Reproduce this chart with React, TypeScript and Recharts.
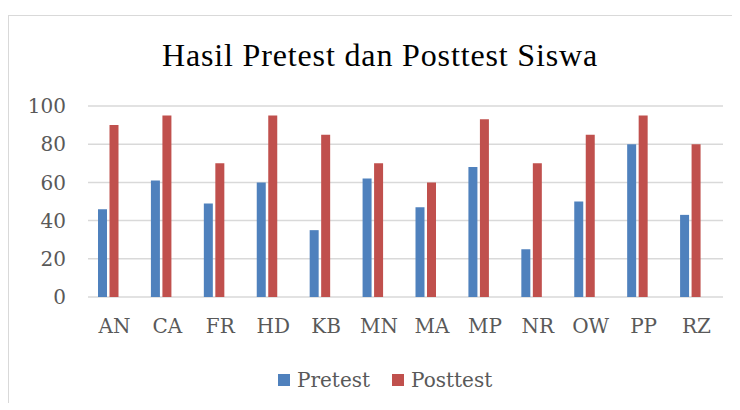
import { BarChart, Bar, XAxis, YAxis, CartesianGrid } from "recharts";

const categories = ["AN", "CA", "FR", "HD", "KB", "MN", "MA", "MP", "NR", "OW", "PP", "RZ"];
const pretest = [46, 61, 49, 60, 35, 62, 47, 68, 25, 50, 80, 43];
const posttest = [90, 95, 70, 95, 85, 70, 60, 93, 70, 85, 95, 80];
const yTicks = [0, 20, 40, 60, 80, 100];

const BLUE = "#4F81BD";
const RED = "#C0504D";
const TEXT = "#595959";
const AXIS_FONT = "'DejaVu Serif', serif";

export default function App() {
  // the Excel source has an empty third series, it only reserves room in each group
  const data = categories.map((name, i) => ({
    name,
    Pretest: pretest[i],
    Posttest: posttest[i],
  }));

  return (
    <div
      style={{
        position: "relative",
        top: 7,
        width: 731,
        height: 394,
        borderTop: "1px solid #D9D9D9",
        borderLeft: "1px solid #D9D9D9",
        background: "#FFFFFF",
      }}
    >
      {/* Title */}
      <div
        style={{
          position: "absolute",
          left: 71,
          top: 23,
          width: 600,
          textAlign: "center",
          fontFamily: "'Liberation Serif', serif",
          fontSize: 32,
          letterSpacing: 0.85,
          lineHeight: "32px",
          color: "#000000",
        }}
      >
        Hasil Pretest dan Posttest Siswa
      </div>

      <BarChart
        width={731}
        height={394}
        data={data}
        margin={{ top: 90, right: 17, left: 0, bottom: 73 }}
        barSize={9}
        barGap={2.5}
      >
        <CartesianGrid horizontal vertical={false} stroke="#D9D9D9" strokeWidth={1.5} />
        <XAxis
          dataKey="name"
          axisLine={false}
          tickLine={false}
          tickSize={0}
          tickMargin={22}
          height={40}
          interval={0}
          tick={{ fontSize: 20, fill: TEXT, fontFamily: AXIS_FONT }}
        />
        <YAxis
          domain={[0, 100]}
          ticks={yTicks}
          axisLine={false}
          tickLine={false}
          tickSize={0}
          tickMargin={22}
          width={79}
          tick={{ fontSize: 20, fill: TEXT, fontFamily: AXIS_FONT }}
        />
        <Bar dataKey="Pretest" fill={BLUE} isAnimationActive={false} />
        <Bar dataKey="Posttest" fill={RED} isAnimationActive={false} />
        <Bar dataKey="Kosong" fill="#9BBB59" isAnimationActive={false} />
      </BarChart>

      {/* Legend */}
      <div
        style={{
          position: "absolute",
          left: 269,
          top: 354,
          display: "flex",
          alignItems: "center",
          fontFamily: AXIS_FONT,
          fontSize: 20,
          lineHeight: "20px",
          color: TEXT,
        }}
      >
        <span style={{ display: "inline-block", width: 12, height: 12, background: BLUE, marginRight: 7 }} />
        <span style={{ marginRight: 22 }}>Pretest</span>
        <span style={{ display: "inline-block", width: 12, height: 12, background: RED, marginRight: 7 }} />
        <span>Posttest</span>
      </div>
    </div>
  );
}
